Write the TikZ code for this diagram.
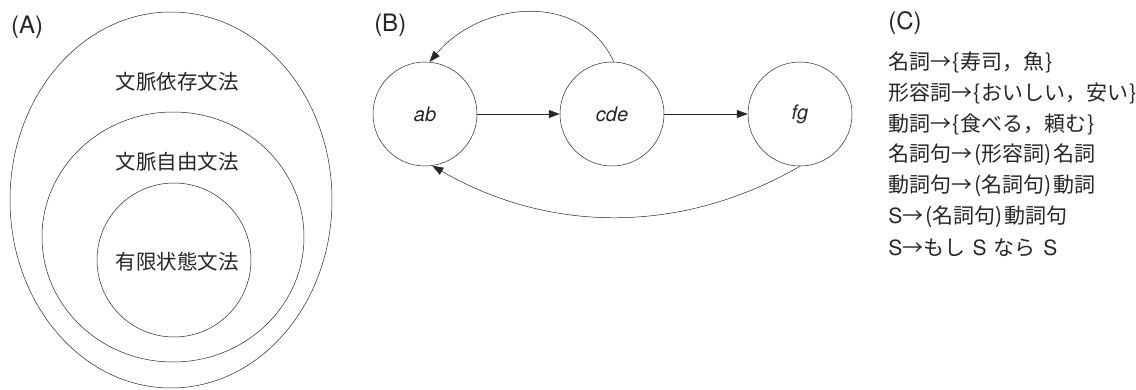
\documentclass[tikz,border=0pt]{standalone}
\usepackage{fontspec}
\setmainfont{TeX Gyre Heros}
\newfontfamily\jp{Noto Sans CJK JP}
\usetikzlibrary{arrows.meta}
% small gaps around brackets in the rules
\newcommand{\lpar}{\hspace{2pt}(}
\newcommand{\rpar}{)\hspace{2pt}}
\newcommand{\lbr}{\hspace{1pt}\{\hspace{1pt}}
\newcommand{\rbr}{\hspace{1pt}\}}
\begin{document}
\begin{tikzpicture}[x=1pt, y=1pt, line width=0.5pt, draw=black!85, text=black!85,
  state/.style={draw, circle, minimum size=104pt, inner sep=0pt,
    font=\fontsize{20}{24}\selectfont\itshape},
  arr/.style={-{Triangle[length=11pt,width=8pt]}},
  tag/.style={anchor=west, inner sep=0pt, font=\fontsize{24}{28}\selectfont},
  setlabel/.style={inner sep=0pt, font=\jp\fontsize{20.5}{24}\selectfont},
  rulebox/.style={anchor=west, inner sep=0pt, font=\jp\fontsize{21}{24}\selectfont}]
\useasboundingbox (0,0) rectangle (1136,389);

% (A) nested grammar classes
\node[tag] (tagA) at (11,362) {(A)};
\draw (171,189) ellipse [x radius=161, y radius=188];
\draw (173,152) ellipse [x radius=131, y radius=125];
\draw (174,129) circle [radius=77];
\node[setlabel] (csg) at (177,307) {文脈依存文法};
\node[setlabel] (cfg) at (177,227) {文脈自由文法};
\node[setlabel] (fsg) at (177,127) {有限状態文法};

% (B) state transition graph
\node[tag] (tagB) at (374,364) {(B)};
\node[state] (ab)  at (425,275) {ab};
\node[state] (cde) at (612,275) {cde};
\node[state] (fg)  at (800,275) {fg};
\draw[arr] (ab) -- (cde);
\draw[arr] (cde) -- (fg);
\draw[arr] (cde.88) to[out=115, in=50, looseness=1.1] (ab.85);
\draw[arr] (fg.270) to[out=210, in=330, looseness=0.95] (ab.278);

% (C) rewrite rules
\node[tag] (tagC) at (888,366) {(C)};
\node[rulebox] (r1) at (888,327) {名詞→\lbr 寿司，魚\rbr};
\node[rulebox] (r2) at (888,296) {形容詞→\lbr おいしい，安い\rbr};
\node[rulebox] (r3) at (888,265) {動詞→\lbr 食べる，頼む\rbr};
\node[rulebox] (r4) at (888,234) {名詞句→\lpar 形容詞\rpar 名詞};
\node[rulebox] (r5) at (888,203) {動詞句→\lpar 名詞句\rpar 動詞};
\node[rulebox] (r6) at (888,172) {{\rmfamily S}→\lpar 名詞句\rpar 動詞句};
\node[rulebox] (r7) at (888,141) {{\rmfamily S}→もし\hspace{0.35em}{\rmfamily S}\hspace{0.35em}なら\hspace{0.35em}{\rmfamily S}};
\end{tikzpicture}
\end{document}
